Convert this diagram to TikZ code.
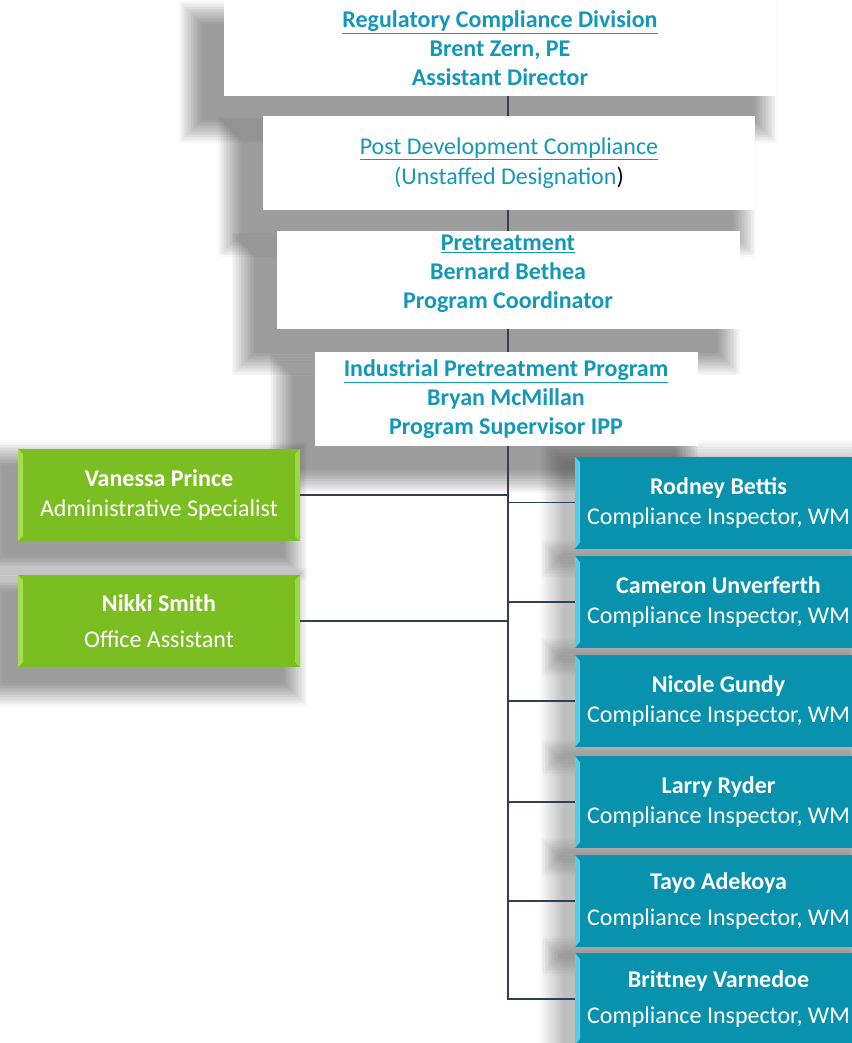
\documentclass[tikz,border=0pt]{standalone}
\usepackage{fontspec}
\setmainfont{Carlito}
\usepackage{tikz}
\usetikzlibrary{positioning,backgrounds}
\usepackage{xcolor}
\definecolor{rcteal}{RGB}{20,152,184}
\definecolor{rcblue}{RGB}{8,146,174}
\definecolor{rcbevel}{RGB}{90,205,230}
\definecolor{rcgreen}{RGB}{122,190,34}
\definecolor{rcgbevel}{RGB}{165,220,80}
\definecolor{rcline}{RGB}{50,62,82}
\tikzstyle{unit} = [rectangle, fill=white, text=rcteal, align=center, font=\fontsize{24}{29}\selectfont\bfseries]
\tikzstyle{staff} = [rectangle, minimum width=282pt, minimum height=92pt, fill=rcgreen, text=white, align=center, font=\fontsize{24}{30}\selectfont, path picture={\fill[rcgbevel] (path picture bounding box.north west) -- ++(5pt,-5pt) -- ([xshift=5pt,yshift=5pt]path picture bounding box.south west) -- (path picture bounding box.south west) -- cycle; \fill[rcgbevel!80!rcgreen] (path picture bounding box.north east) -- ++(-5pt,-5pt) -- ([xshift=-5pt,yshift=5pt]path picture bounding box.south east) -- (path picture bounding box.south east) -- cycle;}]
\tikzstyle{inspector} = [rectangle, minimum width=287pt, minimum height=92pt, fill=rcblue, text=white, align=center, font=\fontsize{24}{30}\selectfont, path picture={\fill[rcbevel] (path picture bounding box.north west) -- ++(5pt,-6pt) -- ([xshift=5pt,yshift=6pt]path picture bounding box.south west) -- (path picture bounding box.south west) -- cycle;}]
\tikzstyle{link} = [draw=rcline, line width=1.6pt]
% soft shadow behind a node: name, xshift, yshift, opacity of one layer
\newcommand{\rcshade}[4]{%
  \begin{scope}[on background layer]
  \foreach \k in {0,...,15}
    \fill[black, opacity=#4] ([xshift={(#2)-\k*1.5pt}, yshift={(#3)+\k*1.5pt}]#1.north west) rectangle ([xshift={(#2)+\k*1.5pt}, yshift={(#3)-\k*1.5pt}]#1.south east);
  \end{scope}}

\begin{document}
\begin{tikzpicture}[x=1pt,y=-1pt]
\useasboundingbox (0,0) rectangle (851,1043);
\begin{scope}[on background layer]
\fill[white] (0,0) rectangle (851,1043);
\end{scope}
% management chain
\node[unit, minimum width=552pt, minimum height=96pt] (reg) at (500,48) {\underline{Regulatory Compliance Division}\\Brent Zern, PE\\Assistant Director};
\node[unit, minimum width=492pt, minimum height=94pt, font=\fontsize{24}{30}\selectfont] (post) at (509,163) {\underline{Post Development Compliance}\\(Unstaffed Designation\textcolor{black}{)}};
\node[unit, minimum width=463pt, minimum height=94pt] (pre) at (508,280) {\underline{Pretreatment}\\Bernard Bethea\\Program Coordinator\\[-12pt]\mbox{}};
\node[unit, minimum width=383pt, minimum height=94pt] (ipp) at (506,399) {\underline{Industrial Pretreatment Program}\\Bryan McMillan\\Program Supervisor IPP};
% support staff
\node[staff] (vp) at (159,495) {\textbf{Vanessa Prince}\\Administrative Specialist};
\node[staff] (ns) at (159,621) {\textbf{Nikki Smith}\\[6pt]Office Assistant};
% inspectors
\node[inspector] (rb) at (718.5,502.5) {\textbf{Rodney Bettis}\\Compliance Inspector, WM};
\node[inspector] (cu) at (718.5,602) {\textbf{Cameron Unverferth}\\Compliance Inspector, WM};
\node[inspector] (ng) at (718.5,701) {\textbf{Nicole Gundy}\\Compliance Inspector, WM};
\node[inspector] (lr) at (718.5,802) {\textbf{Larry Ryder}\\Compliance Inspector, WM};
\node[inspector] (ta) at (718.5,901) {\textbf{Tayo Adekoya}\\[6pt]Compliance Inspector, WM};
\node[inspector] (bv) at (718.5,999) {\textbf{Brittney Varnedoe}\\[6pt]Compliance Inspector, WM};
\coordinate (trunk) at (508,1000);

% shadows
\foreach \s in {reg,post,pre,ipp} \rcshade{\s}{-22pt}{-24pt}{0.026};
\foreach \s in {vp,ns} \rcshade{\s}{-16pt}{-16pt}{0.026};
\foreach \s in {rb,cu,ng,lr,ta,bv} \rcshade{\s}{-12pt}{-6pt}{0.016};

\draw[link] (reg.south -| trunk) -- (post.north -| trunk);
\draw[link] (post.south -| trunk) -- (pre.north -| trunk);
\draw[link] (pre.south -| trunk) -- (ipp.north -| trunk);
\draw[link] (ipp.south -| trunk) -- (trunk);
\foreach \s in {vp,ns} \draw[link] (\s.east) -- (\s.east -| trunk);
\foreach \s in {rb,cu,ng,lr,ta,bv} \draw[link] (\s.west -| trunk) -- (\s.west);
\end{tikzpicture}
\end{document}
